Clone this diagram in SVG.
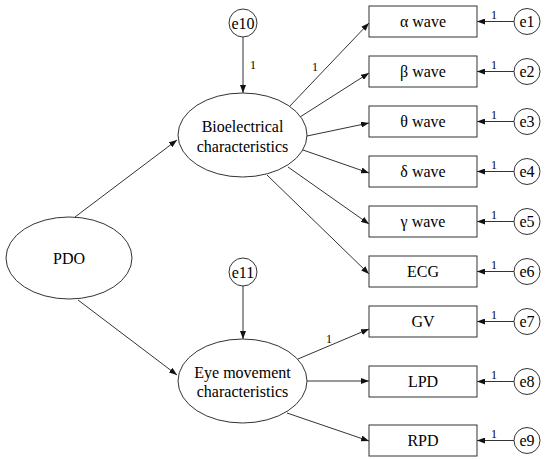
<svg xmlns="http://www.w3.org/2000/svg" width="550" height="459" viewBox="0 0 550 459">
<defs>
<style>
.s{fill:#fff;stroke:#333;stroke-width:1}
.t{font-size:16px;fill:#000;text-anchor:middle}
.n{font-size:12px;fill:#000;text-anchor:middle}
.c{stroke:#333;stroke-width:1;fill:none;marker-end:url(#ah)}
</style>
<marker id="ah" markerWidth="8" markerHeight="6" refX="8" refY="3" orient="auto" markerUnits="userSpaceOnUse">
<path d="M0,0 L8,3 L0,6 Z" fill="#111"/>
</marker>
</defs>
<rect width="550" height="459" fill="#fff"/>
<g font-family="Liberation Serif, Times New Roman, DejaVu Serif, serif">
<g id="connectors">
<line class="c" x1="75" y1="217" x2="177" y2="140"/>
<line class="c" x1="78" y1="300" x2="177" y2="375"/>
<line class="c" x1="243" y1="37" x2="243" y2="93"/>
<line class="c" x1="243" y1="286" x2="243" y2="339"/>
<line class="c" x1="289" y1="107" x2="369" y2="23"/>
<line class="c" x1="300" y1="117" x2="369" y2="73"/>
<line class="c" x1="307" y1="136" x2="369" y2="123"/>
<line class="c" x1="303" y1="150" x2="369" y2="173"/>
<line class="c" x1="288" y1="167" x2="369" y2="224"/>
<line class="c" x1="267" y1="175" x2="369" y2="274"/>
<line class="c" x1="298" y1="359" x2="369" y2="329"/>
<line class="c" x1="307" y1="381" x2="369" y2="381"/>
<line class="c" x1="287" y1="413" x2="369" y2="441"/>
<line class="c" x1="514" y1="21.5" x2="477" y2="21.5"/>
<line class="c" x1="514" y1="71.5" x2="477" y2="71.5"/>
<line class="c" x1="514" y1="121.5" x2="477" y2="121.5"/>
<line class="c" x1="514" y1="171.5" x2="477" y2="171.5"/>
<line class="c" x1="514" y1="221.5" x2="477" y2="221.5"/>
<line class="c" x1="514" y1="271.5" x2="477" y2="271.5"/>
<line class="c" x1="514" y1="321.5" x2="477" y2="321.5"/>
<line class="c" x1="514" y1="381.5" x2="477" y2="381.5"/>
<line class="c" x1="514" y1="440.5" x2="477" y2="440.5"/>
<text class="n" x="253" y="69">1</text>
<text class="n" x="315" y="71">1</text>
<text class="n" x="329" y="343">1</text>
<text class="n" x="494" y="19">1</text>
<text class="n" x="494" y="69">1</text>
<text class="n" x="494" y="119">1</text>
<text class="n" x="494" y="169">1</text>
<text class="n" x="494" y="219">1</text>
<text class="n" x="494" y="269">1</text>
<text class="n" x="494" y="319">1</text>
<text class="n" x="494" y="379">1</text>
<text class="n" x="494" y="438">1</text>
</g>
<g id="PDO"><ellipse class="s" cx="69" cy="258" rx="63" ry="41"/><text class="t" x="69" y="264">PDO</text></g>
<g id="bio"><ellipse class="s" cx="242.5" cy="135" rx="64.5" ry="42"/><text class="t" x="242.5" y="132">Bioelectrical</text><text class="t" x="242.5" y="152">characteristics</text></g>
<g id="eye"><ellipse class="s" cx="242.5" cy="381" rx="64.5" ry="42"/><text class="t" x="242.5" y="378">Eye movement</text><text class="t" x="242.5" y="397">characteristics</text></g>
<g id="e10"><circle class="s" cx="243" cy="23" r="14"/><text class="t" x="243" y="29">e10</text></g>
<g id="e11"><circle class="s" cx="243" cy="272" r="14"/><text class="t" x="243" y="278">e11</text></g>
<g id="alpha"><rect class="s" x="369" y="6" width="108" height="31"/><text class="t" x="423" y="27">α wave</text></g>
<g id="beta"><rect class="s" x="369" y="56" width="108" height="31"/><text class="t" x="423" y="77">β wave</text></g>
<g id="theta"><rect class="s" x="369" y="106" width="108" height="31"/><text class="t" x="423" y="127">θ wave</text></g>
<g id="delta"><rect class="s" x="369" y="156" width="108" height="31"/><text class="t" x="423" y="177">δ wave</text></g>
<g id="gamma"><rect class="s" x="369" y="206" width="108" height="31"/><text class="t" x="423" y="227">γ wave</text></g>
<g id="ECG"><rect class="s" x="369" y="256" width="108" height="31"/><text class="t" x="423" y="277">ECG</text></g>
<g id="GV"><rect class="s" x="369" y="306" width="108" height="31"/><text class="t" x="423" y="327">GV</text></g>
<g id="LPD"><rect class="s" x="369" y="366" width="108" height="31"/><text class="t" x="423" y="387">LPD</text></g>
<g id="RPD"><rect class="s" x="369" y="425" width="108" height="31"/><text class="t" x="423" y="446">RPD</text></g>
<g id="e1"><circle class="s" cx="527" cy="21.5" r="13"/><text class="t" x="527" y="27">e1</text></g>
<g id="e2"><circle class="s" cx="527" cy="71.5" r="13"/><text class="t" x="527" y="77">e2</text></g>
<g id="e3"><circle class="s" cx="527" cy="121.5" r="13"/><text class="t" x="527" y="127">e3</text></g>
<g id="e4"><circle class="s" cx="527" cy="171.5" r="13"/><text class="t" x="527" y="177">e4</text></g>
<g id="e5"><circle class="s" cx="527" cy="221.5" r="13"/><text class="t" x="527" y="227">e5</text></g>
<g id="e6"><circle class="s" cx="527" cy="271.5" r="13"/><text class="t" x="527" y="277">e6</text></g>
<g id="e7"><circle class="s" cx="527" cy="321.5" r="13"/><text class="t" x="527" y="327">e7</text></g>
<g id="e8"><circle class="s" cx="527" cy="381.5" r="13"/><text class="t" x="527" y="387">e8</text></g>
<g id="e9"><circle class="s" cx="527" cy="440.5" r="13"/><text class="t" x="527" y="446">e9</text></g>
</g>
</svg>
